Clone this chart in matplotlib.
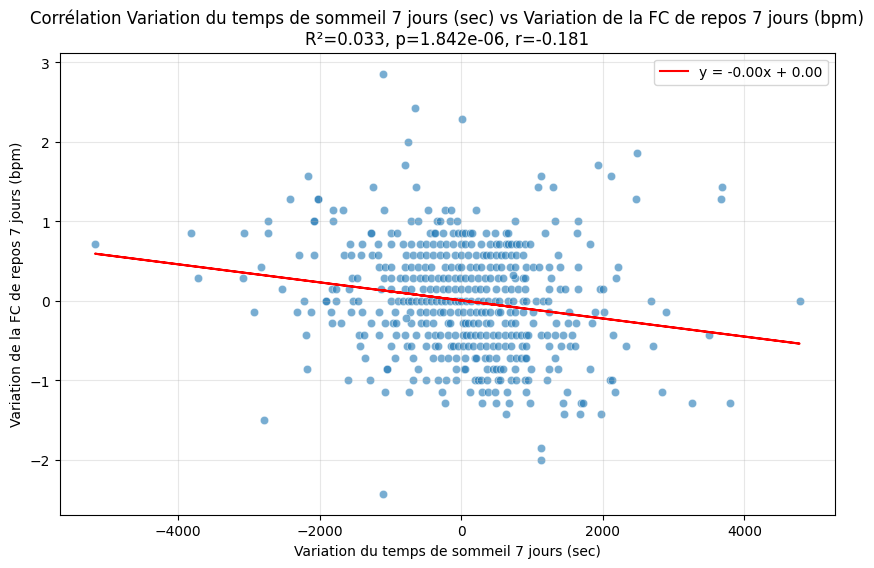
import numpy as np
import matplotlib
matplotlib.use("Agg")
import matplotlib.pyplot as plt
import seaborn as sns

# HR variation levels are in sevenths of a bpm; each list gives the sleep-variation (sec) values at that level
hr_p20 = [-1110]
hr_p17 = [-658]
hr_p16 = [6]
hr_p14 = [-752]
hr_p13 = [2481]
hr_p12 = [-794, 1931]
hr_p11 = [-2164, 1126, 2109]
hr_p10 = [-1246, -640, 1083, 1295, 3682]
hr_p9 = [-2419, -2023, -2023, 2467, 3663]
hr_p8 = [-1811, -1675, -1091, -474, -234, -140, 203]
hr_p7 = [-2729, -2080, -2080, -1811, -715, -611, -343, -296, -164, -56, 759, 1319, 1648]
hr_p6 = [-3821, -3068, -2729, -1279, -1279, -997, -907, -446, -385, -376, -258, -117, -46,
         15, 48, 119, 151, 354, 472, 636, 660, 1182, 1639]
hr_p5 = [-5174, -1576, -1402, -1175, -987, -823, -705, -587, -493, -399, -305, -211, -117, -1,
         53, 142, 283, 401, 495, 528, 636, 660, 707, 777, 810, 895, 970, 1818]
hr_p4 = [-2292, -2080, -1660, -1552, -1416, -1256, -1171, -776, -682, -587, -493, -399, -305,
         -211, -93, 1, 95, 213, 307, 354, 401, 495, 566, 613, 707, 777, 872, 1366]
hr_p3 = [-2828, -1161, -1082, -987, -799, -705, -611, -517, -423, -234, -140, -46, 1, 119,
         213, 283, 401, 495, 566, 683, 754, 919, 1013, 1097, 1239, 1399, 1653, 2213]
hr_p2 = [-3718, -3082, -1543, -1472, -1096, -987, -870, -799, -682, -587, -517, -423, -329,
         -258, -187, -93, -23, 48, 142, 236, 330, 401, 519, 589, 754, 872, 895, 1262, 2185]
hr_p1 = [-2532, -1821, -1774, -1585, -1129, -987, -799, -705, -540, -446, -352, -258, -187,
         -93, 1, 95, 189, 260, 354, 495, 613, 707, 801, 895, 1234, 1399, 1460, 1648, 1954, 2001]
hr_0 = [-2221, -1915, -1915, -1774, -1529, -1458, -987, -900, -823, -752, -705, -634, -564,
        -493, -423, -352, -281, -234, -164, -93, -46, 1, 72, 140, 236, 307, 377, 471, 540,
        660, 730, 872, 919, 1060, 1154, 1225, 2679, 4779]
hr_m1 = [-2927, -2320, -2127, -1835, -1552, -1402, -1161, -940, -729, -587, -493, -399, -305,
         -258, -164, -46, 24, 119, 213, 283, 330, 401, 518, 542, 683, 754, 872, 1013, 1234,
         1526, 1888, 2020, 2896]
hr_m2 = [-1821, -1694, -1270, -1082, -964, -926, -705, -564, -493, -399, -187, -164, 24, 48,
         95, 166, 236, 354, 401, 613, 707, 754, 1013, 1333, 1507, 1625, 1846]
hr_m3 = [-2193, -1444, -1373, -1166, -917, -799, -635, -470, -376, -305, -187, -93, 24, 72,
         119, 189, 260, 354, 448, 519, 613, 707, 777, 848, 919, 942, 1130, 1215, 1319, 1436,
         1563, 2142, 3494]
hr_m4 = [-1425, -987, -766, -705, -493, -376, -329, -140, -117, -46, 24, 95, 166, 260, 354,
         448, 519, 613, 707, 862, 919, 1243, 1413, 1535, 1601, 2331, 2703]
hr_m5 = [-1355, -940, -682, -399, -282, -187, -70, 48, 189, 213, 330, 387, 495, 683, 777, 848,
         895, 919, 1319]
hr_m6 = [-2179, -1049, -1049, -611, -70, 34, 48, 368, 448, 495, 542, 589, 754, 989, 1234,
         1366, 1818]
hr_m7 = [-1599, -1289, -682, -498, -329, -220, -70, 189, 236, 283, 368, 518, 542, 707, 777,
         895, 942, 1210, 2095, 2128]
hr_m8 = [-1077, -742, -273, 123, 293, 377, 481, 646, 909, 1498, 2171, 2835]
hr_m9 = [-234, 293, 490, 674, 970, 1436, 1686, 1719, 3253, 3795]
hr_m10 = [631, 1450, 1676, 1973]
hr_m13 = [1126]
hr_m14 = [1126]
hr_m17 = [-1100]

# a few points off the 1/7 grid
extra_sleep = [-2790, -785, 730]
extra_hr = [-1.5, -0.22, 0.33]

rows = {20: hr_p20, 17: hr_p17, 16: hr_p16, 14: hr_p14, 13: hr_p13, 12: hr_p12, 11: hr_p11,
        10: hr_p10, 9: hr_p9, 8: hr_p8, 7: hr_p7, 6: hr_p6, 5: hr_p5, 4: hr_p4, 3: hr_p3,
        2: hr_p2, 1: hr_p1, 0: hr_0, -1: hr_m1, -2: hr_m2, -3: hr_m3, -4: hr_m4, -5: hr_m5,
        -6: hr_m6, -7: hr_m7, -8: hr_m8, -9: hr_m9, -10: hr_m10, -13: hr_m13, -14: hr_m14,
        -17: hr_m17}

# regression line
fit_slope = -1.137e-4
fit_intercept = 0.004

title_text = ("Corrélation Variation du temps de sommeil 7 jours (sec) vs Variation de la FC de repos 7 jours (bpm)\n"
              "R²=0.033, p=1.842e-06, r=-0.181")

xs, ys = [], []
for lvl, vals in rows.items():
    for v in vals:
        xs.append(v)
        ys.append(lvl / 7.0)
xs += extra_sleep
ys += extra_hr
x = np.array(xs, dtype=float)
y = np.array(ys, dtype=float)

fig, ax = plt.subplots(figsize=(10, 6))
sns.scatterplot(x=x, y=y, alpha=0.6, ax=ax)
ax.plot(x, fit_slope * x + fit_intercept, color="red",
        label=f"y = {fit_slope:.2f}x + {fit_intercept:.2f}")
ax.set_xlabel("Variation du temps de sommeil 7 jours (sec)")
ax.set_ylabel("Variation de la FC de repos 7 jours (bpm)")
ax.set_title(title_text)
ax.legend(loc="upper right")
ax.grid(True, alpha=0.3)
fig.savefig("out.png", dpi=100, bbox_inches="tight")
